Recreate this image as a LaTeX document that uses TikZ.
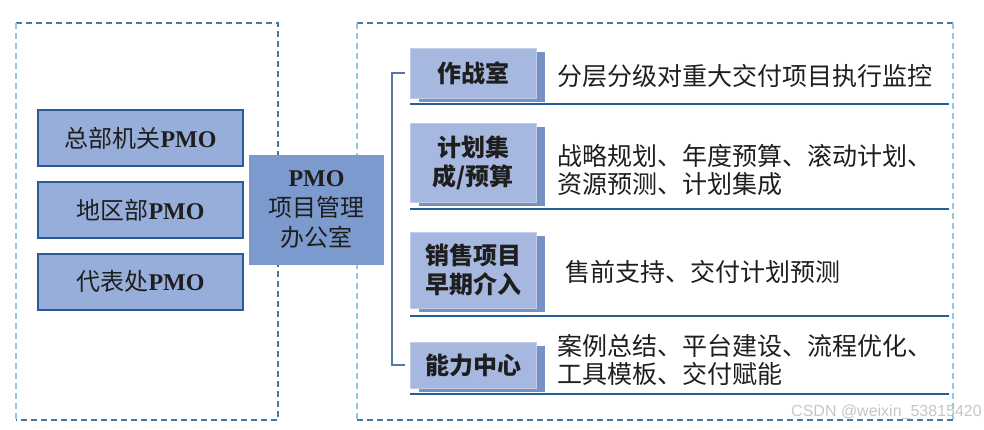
\documentclass[tikz,border=0pt]{standalone}
\usepackage{fontspec}
\setmainfont{Liberation Serif}
\newfontfamily\cjk{Noto Sans CJK SC}
\newfontfamily\wmfont{Liberation Sans}
\usetikzlibrary{positioning,shadows,calc}
\definecolor{unitfill}{RGB}{152,174,218}
\definecolor{unitedge}{RGB}{40,92,152}
\definecolor{pmofill}{RGB}{124,154,205}
\definecolor{catfill}{RGB}{166,184,224}
\definecolor{catshade}{RGB}{118,146,196}
\definecolor{rulecol}{RGB}{36,96,148}
\definecolor{brackcol}{RGB}{84,122,162}
\definecolor{dashdark}{RGB}{70,120,160}
\definecolor{dashlight}{RGB}{150,198,224}
\definecolor{inkcol}{RGB}{30,30,30}
\tikzset{
  unitbox/.style={draw=unitedge, line width=2pt, fill=unitfill, text=inkcol,
                  minimum width=205pt, minimum height=56pt, inner sep=0pt,
                  font=\fontsize{24}{28}\selectfont},
  pmobox/.style={fill=pmofill, text=inkcol, minimum width=135pt, minimum height=110pt,
                 inner sep=0pt, align=center, font=\fontsize{24}{30}\selectfont},
  catbox/.style={fill=catfill, draw=catfill!70!white, line width=0.6pt, text=inkcol,
                 minimum width=126pt, inner sep=0pt, align=center,
                 font=\cjk\bfseries\fontsize{24}{29}\selectfont,
                 copy shadow={shadow xshift=9pt, shadow yshift=-4pt, fill=catshade, draw=none}},
  desc/.style={anchor=west, align=left, inner sep=0pt, text=inkcol,
               font=\cjk\fontsize{25}{28}\selectfont},
  rule/.style={draw=rulecol, line width=2.4pt},
  bracket/.style={draw=brackcol, line width=1.6pt},
  frame/.style={draw=dashdark, line width=1.2pt, dash pattern=on 6pt off 4pt},
  framelight/.style={draw=dashlight, line width=1.2pt, dash pattern=on 6pt off 4pt},
  wmark/.style={anchor=east, inner sep=0pt, text=gray!45, font=\wmfont\fontsize{16}{18}\selectfont}
}
\begin{document}
\begin{tikzpicture}[x=1pt, y=-1pt]
  \useasboundingbox (0,0) rectangle (984,430);

  % dashed frames
  \draw[frame] (16,23) -- (278,23) -- (278,420) -- (16,420);
  \draw[framelight] (16,23) -- (16,420);
  \draw[frame] (357,23) -- (953,23);
  \draw[frame] (357,420) -- (953,420);
  \draw[framelight] (357,23) -- (357,420);
  \draw[framelight] (953,23) -- (953,420);

  % regional offices
  \foreach \name/\txt [count=\i] in {hq/总部机关, region/地区部, office/代表处}{
    \node[unitbox] (\name) at (140.5, 67+71.5*\i) {{\cjk \txt}\textbf{PMO}};
  }

  \node[pmobox] (pmo) at (316.5,210) {\textbf{PMO}\\{\cjk 项目管理}\\{\cjk 办公室}};

  % functions
  \node[catbox, minimum height=50pt] (war) at (473,73) {作战室};
  \node[catbox, minimum height=79pt] (plan) at (473,162.5) {计划集\\成/预算};
  \node[catbox, minimum height=76pt] (sales) at (473,270) {销售项目\\早期介入};
  \node[catbox, minimum height=46pt] (skill) at (473,365) {能力中心};

  \draw[bracket] ($(war.west)+(-5,0)$) -- ++(-13,0) |- ($(skill.west)+(-5,0)$);

  \foreach \y in {104,209,316,394}{
    \draw[rule] (410,\y) -- (949,\y);
  }

  \node[desc] (wardesc) at (557,76) {分层分级对重大交付项目执行监控};
  \node[desc] (plandesc) at (557,170) {战略规划、年度预算、滚动计划、\\资源预测、计划集成};
  \node[desc] (salesdesc) at (565,272) {售前支持、交付计划预测};
  \node[desc] (skilldesc) at (557,360) {案例总结、平台建设、流程优化、\\工具模板、交付赋能};

  \node[wmark] (wm) at (982,412) {CSDN @weixin\_53815420};
\end{tikzpicture}
\end{document}
